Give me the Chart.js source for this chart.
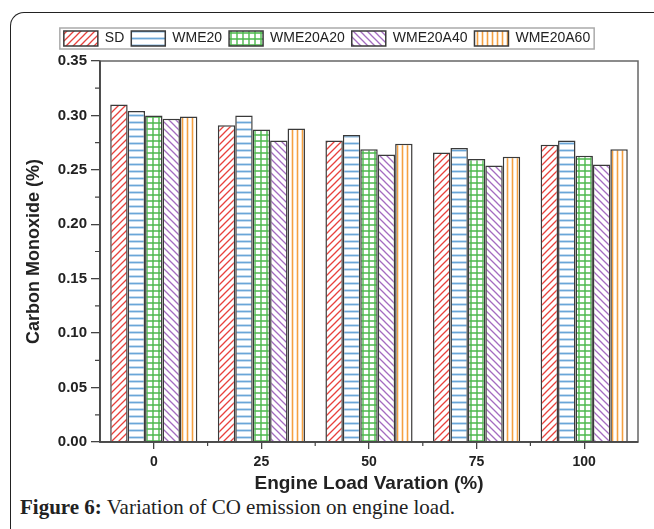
<!DOCTYPE html>
<html>
<head>
<meta charset="utf-8">
<script src="https://cdn.jsdelivr.net/npm/chart.js@4"></script>
<style>
  html, body { margin: 0; padding: 0; background: #fff; width: 654px; height: 529px; overflow: hidden; }
  #frame { position: absolute; left: 10px; top: 12px; width: 700px; height: 560px;
           border-left: 1.5px solid #222; border-top: 1.5px solid #222; border-top-left-radius: 14px; }
  #chart { position: absolute; left: 0; top: 0; }
  #caption { position: absolute; left: 20px; top: 495px; font-family: "Liberation Serif", "Times New Roman", serif;
             font-size: 21px; color: #222; white-space: nowrap; }
</style>
</head>
<body>
<div id="frame"></div>
<canvas id="chart" width="654" height="495"></canvas>
<div id="caption"><b>Figure 6:</b> Variation of CO emission on engine load.</div>
<script>
const categories = ['0', '25', '50', '75', '100'];
const seriesNames = ['SD', 'WME20', 'WME20A20', 'WME20A40', 'WME20A60'];
const sdValues       = [0.310, 0.291, 0.277, 0.266, 0.273];
const wme20Values    = [0.304, 0.300, 0.282, 0.270, 0.277];
const wme20a20Values = [0.300, 0.287, 0.269, 0.260, 0.263];
const wme20a40Values = [0.297, 0.277, 0.264, 0.254, 0.255];
const wme20a60Values = [0.299, 0.288, 0.274, 0.262, 0.269];
const yTickValues = [0, 0.05, 0.10, 0.15, 0.20, 0.25, 0.30, 0.35];

function makePattern(kind, color) {
  const s = kind === 'vert' ? 5 : (kind === 'grid' ? 6 : 7);
  const c = document.createElement('canvas');
  c.width = s; c.height = s;
  const g = c.getContext('2d');
  g.fillStyle = '#fff';
  g.fillRect(0, 0, s, s);
  g.strokeStyle = color;
  g.lineWidth = 1.3;
  g.beginPath();
  if (kind === 'fwd') {
    g.moveTo(0, s); g.lineTo(s, 0);
    g.moveTo(-1, 1); g.lineTo(1, -1);
    g.moveTo(s - 1, s + 1); g.lineTo(s + 1, s - 1);
  } else if (kind === 'back') {
    g.moveTo(0, 0); g.lineTo(s, s);
    g.moveTo(-1, s - 1); g.lineTo(1, s + 1);
    g.moveTo(s - 1, -1); g.lineTo(s + 1, 1);
  } else if (kind === 'horiz') {
    g.lineWidth = 1.8;
    g.moveTo(0, s / 2); g.lineTo(s, s / 2);
  } else if (kind === 'grid') {
    g.lineWidth = 1.4;
    g.moveTo(0, s / 2); g.lineTo(s, s / 2);
    g.moveTo(s / 2, 0); g.lineTo(s / 2, s);
  } else if (kind === 'vert') {
    g.lineWidth = 1.6;
    g.moveTo(s / 2, 0); g.lineTo(s / 2, s);
  }
  g.stroke();
  return g.createPattern(c, 'repeat');
}

const styles = [
  { kind: 'fwd',   color: '#e8413c' },
  { kind: 'horiz', color: '#6aa6d8' },
  { kind: 'grid',  color: '#4cb84c' },
  { kind: 'back',  color: '#a46cc0' },
  { kind: 'vert',  color: '#f5a040' }
];
const allValues = [sdValues, wme20Values, wme20a20Values, wme20a40Values, wme20a60Values];

const datasets = seriesNames.map((name, i) => ({
  label: name,
  data: allValues[i],
  backgroundColor: makePattern(styles[i].kind, styles[i].color),
  borderColor: '#3a3a3a',
  borderWidth: 1.5,
  categoryPercentage: 0.81,
  barPercentage: 1.0,
  xAxisID: 'x',
  yAxisID: 'y'
}));

Chart.defaults.font.family = '"Liberation Sans", Arial, sans-serif';
Chart.defaults.color = '#222';

const decorPlugin = {
  id: 'decor',
  afterDraw(chart) {
    const ctx = chart.ctx;
    const a = chart.chartArea;
    const xs = chart.scales.x, ys = chart.scales.y;
    ctx.save();
    ctx.strokeStyle = '#666';
    ctx.lineWidth = 1.5;
    ctx.strokeRect(a.left, a.top, a.right - a.left, a.bottom - a.top);
    ctx.strokeStyle = '#444';
    ctx.beginPath();
    ctx.moveTo(a.left, a.top); ctx.lineTo(a.left, a.bottom); ctx.lineTo(a.right, a.bottom);
    ctx.stroke();
    ctx.lineWidth = 1.2;
    ctx.beginPath();
    for (let k = 0; k < yTickValues.length - 1; k++) {
      const v = (yTickValues[k] + yTickValues[k + 1]) / 2;
      const y = ys.getPixelForValue(v);
      ctx.moveTo(a.left - 5, y); ctx.lineTo(a.left, y);
    }
    for (let i = 0; i < categories.length - 1; i++) {
      const x = (xs.getPixelForValue(i) + xs.getPixelForValue(i + 1)) / 2;
      ctx.moveTo(x, a.bottom); ctx.lineTo(x, a.bottom + 4);
    }
    ctx.stroke();
    const hb = chart.legend && chart.legend.legendHitBoxes;
    if (hb && hb.length) {
      let l = Infinity, r = -Infinity, t = Infinity, b = -Infinity;
      hb.forEach(h => { l = Math.min(l, h.left); r = Math.max(r, h.left + h.width); t = Math.min(t, h.top); b = Math.max(b, h.top + h.height); });
      ctx.strokeStyle = '#aaa';
      ctx.lineWidth = 1.5;
      ctx.strokeRect(l - 4, t - 3, r - l + 8, b - t + 6);
    }
    ctx.restore();
  }
};

new Chart(document.getElementById('chart'), {
  type: 'bar',
  data: { labels: categories, datasets: datasets },
  plugins: [decorPlugin],
  options: {
    responsive: false,
    animation: false,
    devicePixelRatio: 1,
    layout: { padding: { left: 0, right: 0, top: 24, bottom: 0 } },
    plugins: {
      legend: {
        position: 'top',
        labels: {
          boxWidth: 34,
          boxHeight: 15,
          padding: 7,
          color: '#222',
          font: { size: 14 }
        }
      },
      tooltip: { enabled: false }
    },
    scales: {
      x: {
        type: 'category',
        position: 'bottom',
        offset: true,
        grid: { display: true, drawOnChartArea: false, offset: false, tickLength: 7, color: '#444', lineWidth: 1.3 },
        border: { display: true, color: '#444', width: 1.5 },
        ticks: { padding: 5, color: '#222', font: { size: 14, weight: 'bold' } },
        title: { display: true, text: 'Engine Load Varation (%)', color: '#222',
                 font: { size: 19, weight: 'bold' }, padding: { top: 0, bottom: 0 } },
        afterFit(s) { s.height = 53; }
      },
      y: {
        type: 'linear',
        position: 'left',
        min: 0,
        max: 0.35,
        afterBuildTicks(s) { s.ticks = yTickValues.map(v => ({ value: v })); },
        grid: { display: true, drawOnChartArea: false, tickLength: 9, color: '#444', lineWidth: 1.3 },
        border: { display: true, color: '#444', width: 1.5 },
        ticks: { padding: 4, color: '#222', font: { size: 15, weight: 'bold' },
                 callback: v => Number(v).toFixed(2) },
        title: { display: true, text: 'Carbon Monoxide (%)', color: '#222',
                 font: { size: 18, weight: 'bold' }, padding: { top: 23, bottom: 0 } },
        afterFit(s) { s.width = 100; }
      },
      topSpacer: {
        type: 'linear',
        position: 'top',
        display: true,
        grid: { display: false },
        border: { display: false },
        ticks: { display: false },
        afterFit(s) { s.height = 5; }
      },
      rightSpacer: {
        type: 'linear',
        position: 'right',
        display: true,
        grid: { display: false },
        border: { display: false },
        ticks: { display: false },
        afterFit(s) { s.width = 16; }
      }
    }
  }
});
</script>
</body>
</html>
